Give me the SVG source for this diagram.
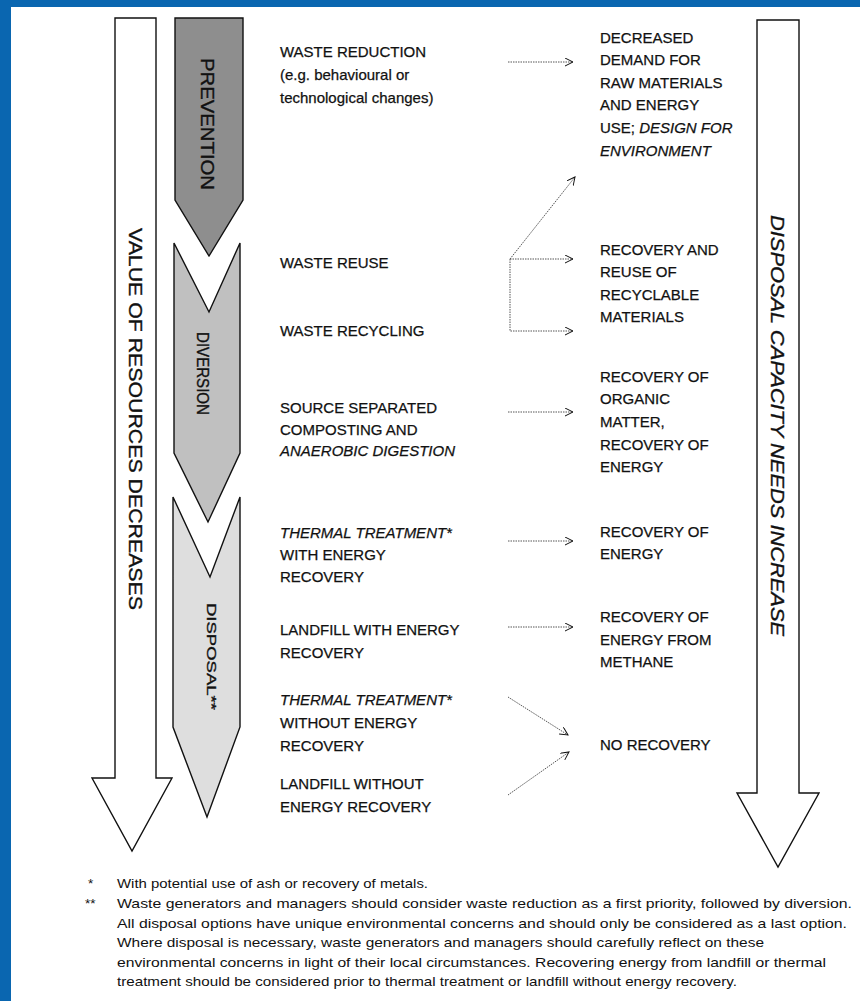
<svg xmlns="http://www.w3.org/2000/svg" width="860" height="1001" viewBox="0 0 860 1001">
<style>
.lbl{font-family:"Liberation Sans",Arial,sans-serif;font-size:15px;fill:#111;stroke:#111;stroke-width:0.25}
.it{font-style:italic}
.big{font-family:"Liberation Sans",Arial,sans-serif;font-size:19px;fill:#111;stroke:#111;stroke-width:0.35}
.fn{font-family:"Liberation Sans",Arial,sans-serif;font-size:13.5px;fill:#111}
.shape{stroke:#111;stroke-width:1.4;stroke-linejoin:miter}
.conn{fill:none;stroke:#555;stroke-width:1;stroke-dasharray:1.5 1}
</style>
<defs>
<marker id="ah" markerWidth="10" markerHeight="10" refX="8" refY="4" orient="auto" markerUnits="userSpaceOnUse">
<path d="M0,0 L8,4 L0,8" fill="none" stroke="#111" stroke-width="1"/>
</marker>
</defs>
<rect x="0" y="0" width="860" height="1001" fill="#fff"/>
<rect x="0" y="0" width="860" height="7" fill="#0a66b0"/>
<rect x="0" y="0" width="11" height="1001" fill="#0a66b0"/>

<g id="value-arrow">
<path class="shape" d="M115,18 L156,18 L156,778 L172,778 L132,851 L92,778 L115,778 Z" fill="#fff"/>
<text class="big" transform="translate(129,228) rotate(90)" textLength="382" lengthAdjust="spacingAndGlyphs">VALUE OF RESOURCES DECREASES</text>
</g>

<g id="capacity-arrow">
<path class="shape" d="M757,20 L799,20 L799,793 L819,793 L778,867 L737,793 L757,793 Z" fill="#fff"/>
<text class="big it" transform="translate(771,215) rotate(90)" textLength="421" lengthAdjust="spacingAndGlyphs">DISPOSAL CAPACITY NEEDS INCREASE</text>
</g>

<g id="prevention">
<path class="shape" d="M175,18 L243,18 L243,200 L209,256 L175,200 Z" fill="#8e8e8e"/>
<text class="big" style="font-size:18px" transform="translate(201,58) rotate(90)" textLength="132" lengthAdjust="spacingAndGlyphs">PREVENTION</text>
</g>

<g id="diversion">
<path class="shape" d="M174,243 L209,312 L240,243 L240,453 L208,522 L174,453 Z" fill="#c0c0c0"/>
<text class="big" style="font-size:16px" transform="translate(197,332) rotate(90)" textLength="83" lengthAdjust="spacingAndGlyphs">DIVERSION</text>
</g>

<g id="disposal">
<path class="shape" d="M173,497 L210,577 L240,497 L240,727 L207,817 L173,727 Z" fill="#dedede"/>
<text class="big" style="font-size:13px" transform="translate(207,603) rotate(90)" textLength="107" lengthAdjust="spacingAndGlyphs">DISPOSAL**</text>
</g>

<g id="waste-reduction">
<text class="lbl" x="280" y="57">WASTE REDUCTION</text>
<text class="lbl" x="280" y="80">(e.g. behavioural or</text>
<text class="lbl" x="280" y="103">technological changes)</text>
</g>
<g id="waste-reuse"><text class="lbl" x="280" y="268">WASTE REUSE</text></g>
<g id="waste-recycling"><text class="lbl" x="280" y="336">WASTE RECYCLING</text></g>
<g id="composting">
<text class="lbl" x="280" y="413">SOURCE SEPARATED</text>
<text class="lbl" x="280" y="435">COMPOSTING AND</text>
<text class="lbl it" x="280" y="456">ANAEROBIC DIGESTION</text>
</g>
<g id="thermal-energy">
<text class="lbl it" x="280" y="538">THERMAL TREATMENT*</text>
<text class="lbl" x="280" y="560">WITH ENERGY</text>
<text class="lbl" x="280" y="582">RECOVERY</text>
</g>
<g id="landfill-energy">
<text class="lbl" x="280" y="635">LANDFILL WITH ENERGY</text>
<text class="lbl" x="280" y="658">RECOVERY</text>
</g>
<g id="thermal-no-energy">
<text class="lbl it" x="280" y="705">THERMAL TREATMENT*</text>
<text class="lbl" x="280" y="728">WITHOUT ENERGY</text>
<text class="lbl" x="280" y="751">RECOVERY</text>
</g>
<g id="landfill-no-energy">
<text class="lbl" x="280" y="789">LANDFILL WITHOUT</text>
<text class="lbl" x="280" y="812">ENERGY RECOVERY</text>
</g>

<g id="decreased-demand">
<text class="lbl" x="600" y="43">DECREASED</text>
<text class="lbl" x="600" y="65">DEMAND FOR</text>
<text class="lbl" x="600" y="88">RAW MATERIALS</text>
<text class="lbl" x="600" y="110">AND ENERGY</text>
<text class="lbl" x="600" y="133">USE; <tspan class="it">DESIGN FOR</tspan></text>
<text class="lbl it" x="600" y="156">ENVIRONMENT</text>
</g>
<g id="recovery-recyclables">
<text class="lbl" x="600" y="255">RECOVERY AND</text>
<text class="lbl" x="600" y="277">REUSE OF</text>
<text class="lbl" x="600" y="300">RECYCLABLE</text>
<text class="lbl" x="600" y="322">MATERIALS</text>
</g>
<g id="recovery-organic">
<text class="lbl" x="600" y="382">RECOVERY OF</text>
<text class="lbl" x="600" y="404">ORGANIC</text>
<text class="lbl" x="600" y="427">MATTER,</text>
<text class="lbl" x="600" y="450">RECOVERY OF</text>
<text class="lbl" x="600" y="472">ENERGY</text>
</g>
<g id="recovery-energy">
<text class="lbl" x="600" y="537">RECOVERY OF</text>
<text class="lbl" x="600" y="559">ENERGY</text>
</g>
<g id="recovery-methane">
<text class="lbl" x="600" y="622">RECOVERY OF</text>
<text class="lbl" x="600" y="645">ENERGY FROM</text>
<text class="lbl" x="600" y="667">METHANE</text>
</g>
<g id="no-recovery">
<text class="lbl" x="600" y="750">NO RECOVERY</text>
</g>

<g id="connectors">
<path class="conn" d="M508,62 L573,62" marker-end="url(#ah)"/>
<path class="conn" d="M510,259 L575,177" marker-end="url(#ah)"/>
<path class="conn" d="M510,259 L573,259" marker-end="url(#ah)"/>
<path class="conn" d="M510,259 L510,331 L573,331" marker-end="url(#ah)"/>
<path class="conn" d="M508,412 L573,412" marker-end="url(#ah)"/>
<path class="conn" d="M508,541 L573,541" marker-end="url(#ah)"/>
<path class="conn" d="M508,627 L573,627" marker-end="url(#ah)"/>
<path class="conn" d="M508,697 L568,735" marker-end="url(#ah)"/>
<path class="conn" d="M508,795 L569,752" marker-end="url(#ah)"/>
</g>

<g id="footnotes">
<text class="fn" x="88" y="888">*</text>
<text class="fn" x="117" y="888" textLength="311" lengthAdjust="spacingAndGlyphs">With potential use of ash or recovery of metals.</text>
<text class="fn" x="85" y="908">**</text>
<text class="fn" x="117" y="908" textLength="735" lengthAdjust="spacingAndGlyphs">Waste generators and managers should consider waste reduction as a first priority, followed by diversion.</text>
<text class="fn" x="117" y="928" textLength="730" lengthAdjust="spacingAndGlyphs">All disposal options have unique environmental concerns and should only be considered as a last option.</text>
<text class="fn" x="117" y="947" textLength="647" lengthAdjust="spacingAndGlyphs">Where disposal is necessary, waste generators and managers should carefully reflect on these</text>
<text class="fn" x="117" y="967" textLength="709" lengthAdjust="spacingAndGlyphs">environmental concerns in light of their local circumstances.  Recovering energy from landfill or thermal</text>
<text class="fn" x="117" y="986" textLength="620" lengthAdjust="spacingAndGlyphs">treatment should be considered prior to thermal treatment or landfill without energy recovery.</text>
</g>
</svg>
